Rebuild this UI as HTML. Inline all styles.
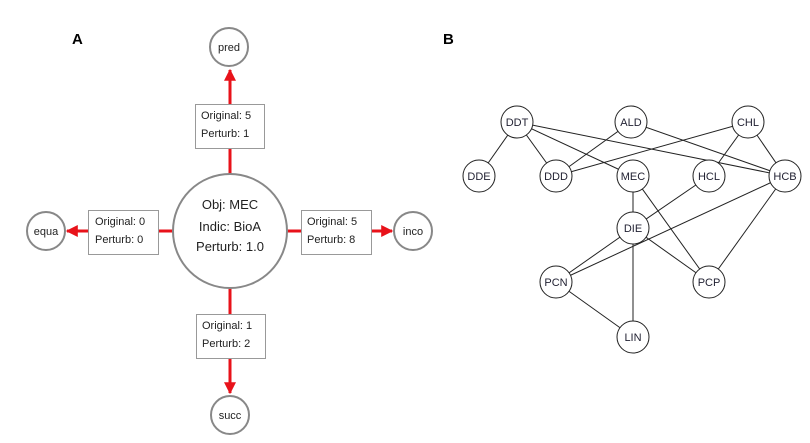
<!DOCTYPE html>
<html><head><meta charset="utf-8"><style>
html,body{margin:0;padding:0;background:#fff;width:810px;height:443px;overflow:hidden}
svg{display:block}
</style></head><body>
<svg width="810" height="443" viewBox="0 0 810 443" xmlns="http://www.w3.org/2000/svg">
<defs>
<marker id="ar" viewBox="0 0 10 10" refX="9" refY="5" markerWidth="4" markerHeight="4" orient="auto"><path d="M0,0L10,5L0,10z" fill="#e8121a"/></marker>
</defs>
<g font-family="Liberation Sans, sans-serif" font-weight="bold" font-size="15">
<text x="72" y="44">A</text><text x="443" y="44">B</text>
</g>
<g stroke="#e8121a" stroke-width="3" fill="none">
<line x1="230" y1="174" x2="230" y2="70" marker-end="url(#ar)"/>
<line x1="230" y1="288" x2="230" y2="393" marker-end="url(#ar)"/>
<line x1="173" y1="231" x2="67" y2="231" marker-end="url(#ar)"/>
<line x1="287" y1="231" x2="392" y2="231" marker-end="url(#ar)"/>
</g>
<g stroke="#888" stroke-width="2" fill="#fff">
<circle cx="230" cy="231" r="57"/>
<circle cx="229" cy="47" r="19"/>
<circle cx="230" cy="415" r="19"/>
<circle cx="46" cy="231" r="19"/>
<circle cx="413" cy="231" r="19"/>
</g>
<g stroke="#999" stroke-width="1" fill="#fff">
<rect x="195.5" y="104.5" width="69" height="44"/>
<rect x="88.5" y="210.5" width="70" height="44"/>
<rect x="301.5" y="210.5" width="70" height="44"/>
<rect x="196.5" y="314.5" width="69" height="44"/>
</g>
<g font-family="Liberation Sans, sans-serif" font-size="11" fill="#222">
<text x="229" y="51" text-anchor="middle">pred</text>
<text x="230" y="419" text-anchor="middle">succ</text>
<text x="46" y="235" text-anchor="middle">equa</text>
<text x="413" y="235" text-anchor="middle">inco</text>
<text x="201" y="119">Original: 5</text><text x="201" y="137">Perturb: 1</text>
<text x="95" y="225">Original: 0</text><text x="95" y="243">Perturb: 0</text>
<text x="307" y="225">Original: 5</text><text x="307" y="243">Perturb: 8</text>
<text x="202" y="329">Original: 1</text><text x="202" y="347">Perturb: 2</text>
<g font-size="13" text-anchor="middle">
<text x="230" y="209">Obj: MEC</text>
<text x="230" y="231">Indic: BioA</text>
<text x="230" y="251">Perturb: 1.0</text>
</g>
</g>
<g stroke="#222" stroke-width="1" fill="none">
<line x1="517" y1="122" x2="479" y2="176"/>
<line x1="517" y1="122" x2="556" y2="176"/>
<line x1="517" y1="122" x2="633" y2="176"/>
<line x1="517" y1="122" x2="785" y2="176"/>
<line x1="631" y1="122" x2="556" y2="176"/>
<line x1="631" y1="122" x2="785" y2="176"/>
<line x1="748" y1="122" x2="556" y2="176"/>
<line x1="748" y1="122" x2="709" y2="176"/>
<line x1="748" y1="122" x2="785" y2="176"/>
<line x1="633" y1="176" x2="633" y2="228"/>
<line x1="633" y1="176" x2="709" y2="282"/>
<line x1="709" y1="176" x2="633" y2="228"/>
<line x1="785" y1="176" x2="556" y2="282"/>
<line x1="785" y1="176" x2="709" y2="282"/>
<line x1="633" y1="228" x2="556" y2="282"/>
<line x1="633" y1="228" x2="709" y2="282"/>
<line x1="633" y1="228" x2="633" y2="337"/>
<line x1="556" y1="282" x2="633" y2="337"/>
</g>
<g stroke="#222" stroke-width="1" fill="#fff">
<circle cx="517" cy="122" r="16"/><circle cx="631" cy="122" r="16"/><circle cx="748" cy="122" r="16"/>
<circle cx="479" cy="176" r="16"/><circle cx="556" cy="176" r="16"/><circle cx="633" cy="176" r="16"/>
<circle cx="709" cy="176" r="16"/><circle cx="785" cy="176" r="16"/><circle cx="633" cy="228" r="16"/>
<circle cx="556" cy="282" r="16"/><circle cx="709" cy="282" r="16"/><circle cx="633" cy="337" r="16"/>
</g>
<g font-family="Liberation Sans, sans-serif" font-size="11" fill="#223" text-anchor="middle">
<text x="517" y="126">DDT</text><text x="631" y="126">ALD</text><text x="748" y="126">CHL</text>
<text x="479" y="180">DDE</text><text x="556" y="180">DDD</text><text x="633" y="180">MEC</text>
<text x="709" y="180">HCL</text><text x="785" y="180">HCB</text><text x="633" y="232">DIE</text>
<text x="556" y="286">PCN</text><text x="709" y="286">PCP</text><text x="633" y="341">LIN</text>
</g>
</svg>
</body></html>
